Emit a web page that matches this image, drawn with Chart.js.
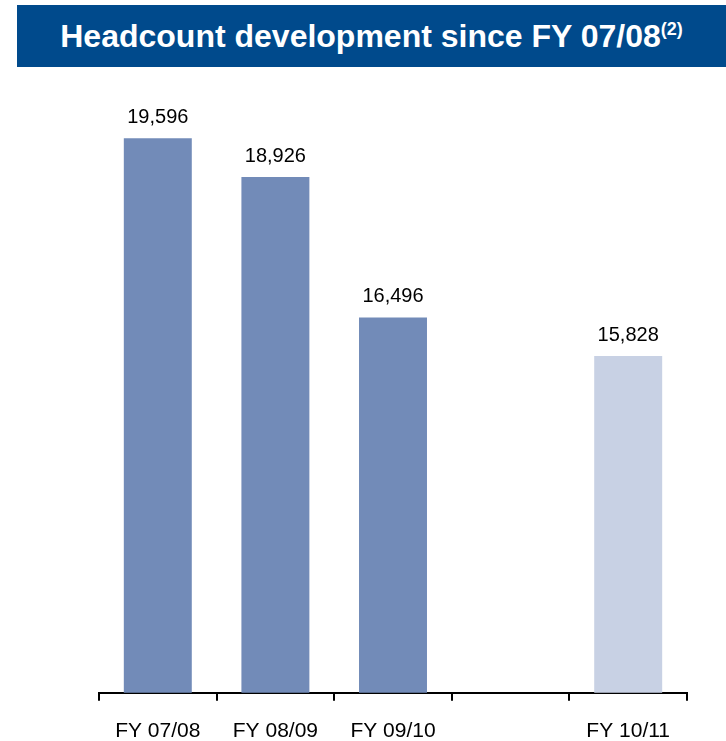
<!DOCTYPE html>
<html>
<head>
<meta charset="utf-8">
<script src="https://cdn.jsdelivr.net/npm/chart.js@4"></script>
<style>
	body { margin: 0; background: #fff; font-family: "Liberation Sans", Arial, sans-serif; }
	#wrap { position: relative; width: 726px; height: 741px; overflow: hidden; }
	#banner {
		position: absolute; left: 17px; top: 5px; width: 709px; height: 62px;
		background: #004a8c; color: #fff; font-weight: bold; font-size: 32px;
		line-height: 62px; text-align: center; z-index: 2;
	}
	#banner sup { font-size: 18px; vertical-align: 0; position: relative; top: -12px; }
	#chart { position: absolute; left: 0; top: 0; }
</style>
</head>
<body>
<div id="wrap">
	<div id="banner">Headcount development since FY 07/08<sup>(2)</sup></div>
	<canvas id="chart" width="726" height="741"></canvas>
</div>
<script>
// fiscal years, the gap column stays empty
const years = ['FY 07/08', 'FY 08/09', 'FY 09/10', '', 'FY 10/11'];
const headcount = [19596, 18926, 16496, null, 15828];
const barColors = ['#728bb8', '#728bb8', '#728bb8', '#728bb8', '#c8d1e4'];

// numbers above each bar
const valueLabels = {
	id: 'valueLabels',
	afterDatasetsDraw(chart) {
		const ctx = chart.ctx;
		const meta = chart.getDatasetMeta(0);
		ctx.save();
		ctx.font = '20px "Liberation Sans", Arial, sans-serif';
		ctx.fillStyle = '#000';
		ctx.textAlign = 'center';
		ctx.textBaseline = 'alphabetic';
		meta.data.forEach((bar, i) => {
			const v = headcount[i];
			if (v == null) return;
			ctx.fillText(v.toLocaleString('en-US'), bar.x, bar.y - 15);
		});
		ctx.restore();
	}
};

new Chart(document.getElementById('chart'), {
	type: 'bar',
	data: {
		labels: years,
		datasets: [{
			data: headcount,
			backgroundColor: barColors,
			borderWidth: 0,
			categoryPercentage: 1,
			barPercentage: 0.578
		}]
	},
	options: {
		responsive: false,
		animation: false,
		layout: { padding: { left: 99, right: 39, top: 115, bottom: -21 } },
		plugins: { legend: { display: false }, tooltip: { enabled: false } },
		scales: {
			y: { display: false, min: 10000, max: 20000 },
			x: {
				offset: true,
				border: { color: '#000', width: 2 },
				grid: { offset: true, drawOnChartArea: false, drawTicks: true, tickLength: 8, color: '#000', lineWidth: 2 },
				ticks: { color: '#000', padding: 18, font: { size: 21, family: '"Liberation Sans", Arial, sans-serif' } }
			}
		}
	},
	plugins: [valueLabels]
});
</script>
</body>
</html>
